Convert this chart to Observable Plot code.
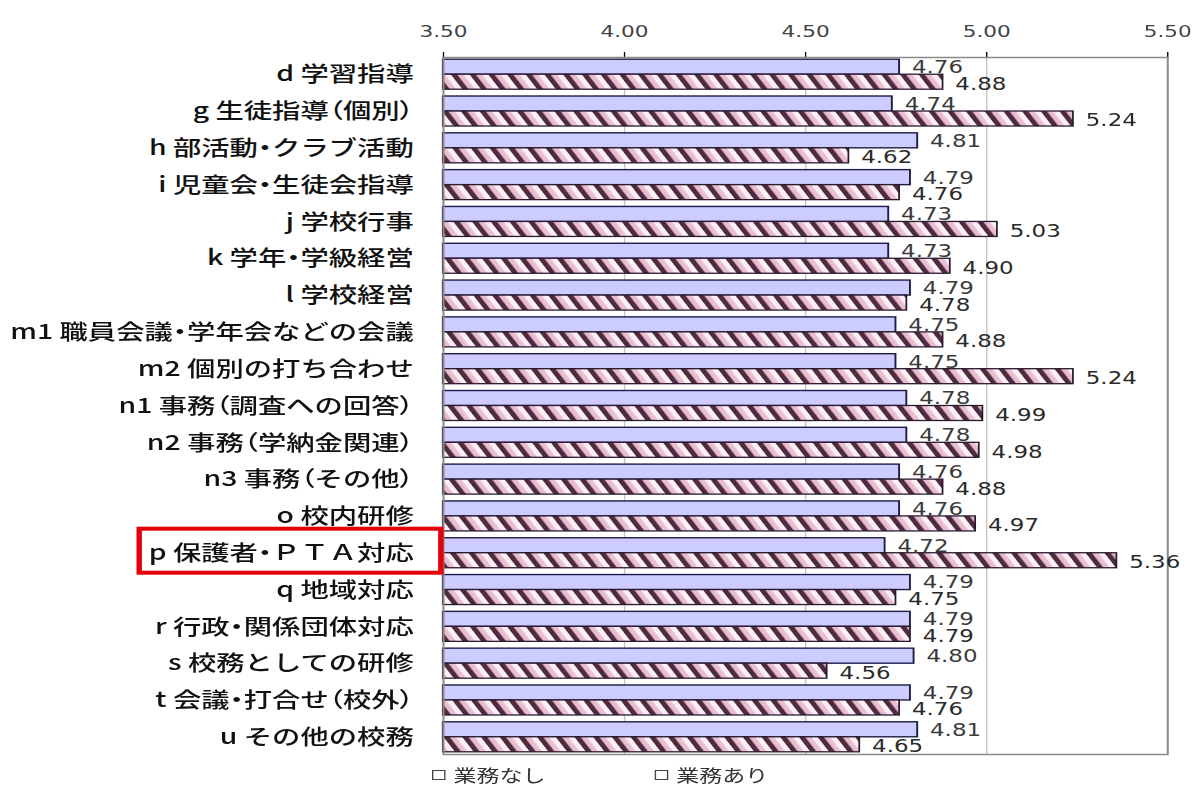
<!DOCTYPE html>
<html>
<head>
<meta charset="utf-8">
<script src="https://cdn.jsdelivr.net/npm/d3@7"></script>
<script src="https://cdn.jsdelivr.net/npm/@observablehq/plot@0.6"></script>
<style>
  html, body { margin: 0; padding: 0; background: #fff; overflow: hidden; }
  #wrap { width: 883px; transform: scaleX(1.35); transform-origin: 0 0; position: relative; }
  #chart svg { display: block; overflow: visible; }
  g[aria-label="y-axis tick label"], g[aria-label="y-axis"] {
    font-family: "Noto Sans CJK JP", sans-serif; font-size: 21px; font-weight: 500; fill: #111; color: #111;
  }
  tspan.narrow { font-feature-settings: "palt" 1; }
  g[aria-label="x-axis tick label"], g[aria-label="x-axis"] {
    font-family: "DejaVu Sans", sans-serif; font-size: 16px; fill: #444; color: #444;
  }
  #legend { position: relative; height: 27px; font-family: "Noto Sans CJK JP", sans-serif; font-size: 17px; color: #333; }
  #legend .item { position: absolute; top: 0px; display: flex; align-items: center; white-space: nowrap; }
  #legend .sw { width: 8px; height: 8px; border: 1.5px solid #444; background: #fff; margin-right: 6px; }
</style>
</head>
<body>
<div id="wrap">
  <div id="chart"></div>
  <div id="legend"></div>
</div>
<script>
const categories = [
  "d 学習指導", "g 生徒指導（個別）", "h 部活動・クラブ活動", "i 児童会・生徒会指導",
  "j 学校行事", "k 学年・学級経営", "l 学校経営", "m1 職員会議・学年会などの会議",
  "m2 個別の打ち合わせ", "n1 事務（調査への回答）", "n2 事務（学納金関連）", "n3 事務（その他）",
  "o 校内研修", "p 保護者・ＰＴＡ対応", "q 地域対応", "r 行政・関係団体対応",
  "s 校務としての研修", "t 会議・打合せ（校外）", "u その他の校務"
];
const noDuty   = [4.76, 4.74, 4.81, 4.79, 4.73, 4.73, 4.79, 4.75, 4.75, 4.78, 4.78, 4.76, 4.76, 4.72, 4.79, 4.79, 4.80, 4.79, 4.81];
const withDuty = [4.88, 5.24, 4.62, 4.76, 5.03, 4.90, 4.78, 4.88, 5.24, 4.99, 4.98, 4.88, 4.97, 5.36, 4.75, 4.79, 4.56, 4.76, 4.65];
const seriesNames = ["業務なし", "業務あり"];
const xTicks = [3.5, 4.0, 4.5, 5.0, 5.5];
const xDomain = [3.5, 5.5];
const highlighted = "p 保護者・ＰＴＡ対応";

const rowsA = categories.map((c, i) => ({cat: c, series: seriesNames[0], value: noDuty[i]}));
const rowsB = categories.map((c, i) => ({cat: c, series: seriesNames[1], value: withDuty[i]}));

const W = 883, H = 762;
function build(bw) {
  return Plot.plot({
    width: W, height: H,
    marginLeft: 328, marginRight: 18.5, marginTop: 57, marginBottom: 8,
    style: {background: "#fff", overflow: "visible"},
    x: {domain: xDomain, axis: "top", ticks: xTicks, tickFormat: d => d.toFixed(2), tickSize: 6, tickPadding: 15, label: null},
    y: {domain: categories, paddingInner: 0.185, paddingOuter: 0.06, round: false, tickSize: 0, tickPadding: 22, label: null},
    marks: [
      Plot.ruleX([4.0, 4.5, 5.0], {stroke: "#c4c4c4", strokeWidth: 1}),
      Plot.barX(rowsA, {x1: xDomain[0], x2: "value", y: "cat", insetBottom: bw / 2, fill: "#ccccff", stroke: "#1c1c48", strokeWidth: 1.4}),
      Plot.barX(rowsB, {x1: xDomain[0], x2: "value", y: "cat", insetTop: bw / 2, fill: "url(#hatchPink)", stroke: "#2a1a30", strokeWidth: 1.3}),
      Plot.frame({stroke: "#8a8a8a", strokeWidth: 1.5}),
      Plot.text(rowsA, {x: "value", y: "cat", text: d => d.value.toFixed(2), dx: 9, dy: -bw / 4 + 0.5, textAnchor: "start",
        fontFamily: "DejaVu Sans", fontSize: 17, fill: "#3a3a3a"}),
      Plot.text(rowsB, {x: "value", y: "cat", text: d => d.value.toFixed(2), dx: 9, dy: bw / 4 + 2, textAnchor: "start",
        fontFamily: "DejaVu Sans", fontSize: 17, fill: "#2a2a2a"})
    ]
  });
}

let plot = build(30);
const bw = plot.scale("y").bandwidth || 30;
plot = build(bw);
document.getElementById("chart").appendChild(plot);

// hatch pattern definition
const svg = d3.select(plot);
const defs = svg.insert("defs", ":first-child");
const pat = defs.append("pattern").attr("id", "hatchPink").attr("patternUnits", "userSpaceOnUse")
  .attr("width", 12).attr("height", 12).attr("patternTransform", "rotate(-30)");
pat.append("rect").attr("width", 12).attr("height", 12).attr("fill", "#fcf0f5");
pat.append("rect").attr("x", 0).attr("width", 4.2).attr("height", 12).attr("fill", "#4e2b40");
pat.append("rect").attr("x", 4.2).attr("width", 3.8).attr("height", 12).attr("fill", "#ebbdd0");

// proportional width for the middle dot and brackets, as in the source
const narrowChars = new Set(["・", "（", "）"]);
const catSet = new Set(categories);
plot.querySelectorAll("text").forEach(t => {
  const s = t.textContent;
  if (!catSet.has(s) || t.children.length) return;
  t.textContent = "";
  let buf = "", bufNarrow = null;
  const flush = () => {
    if (!buf) return;
    const ts = document.createElementNS("http://www.w3.org/2000/svg", "tspan");
    if (bufNarrow) ts.setAttribute("class", "narrow");
    ts.textContent = buf;
    t.appendChild(ts);
    buf = "";
  };
  for (const ch of s) {
    const n = narrowChars.has(ch);
    if (bufNarrow !== null && n !== bufNarrow) flush();
    bufNarrow = n;
    buf += ch;
  }
  flush();
});

// red highlight box around one category label
const svgRect = plot.getBoundingClientRect();
const S = svgRect.width / W;
plot.querySelectorAll("text").forEach(t => {
  if (t.textContent === highlighted) {
    const r = t.getBoundingClientRect();
    const x0 = (r.left - svgRect.left) / S, x1 = (r.right - svgRect.left) / S;
    const y0 = r.top - svgRect.top, y1 = r.bottom - svgRect.top;
    const cy = (y0 + y1) / 2;
    svg.append("rect")
      .attr("x", x0 - 7).attr("y", cy - 22)
      .attr("width", (x1 - x0) + 27).attr("height", 44)
      .attr("fill", "none").attr("stroke", "#e6000b").attr("stroke-width", 4);
  }
});

// legend
const legendPos = [320, 485];
const legend = d3.select("#legend");
seriesNames.forEach((name, i) => {
  const it = legend.append("div").attr("class", "item").style("left", legendPos[i] + "px");
  it.append("div").attr("class", "sw");
  it.append("span").text(name);
});
</script>
</body>
</html>
